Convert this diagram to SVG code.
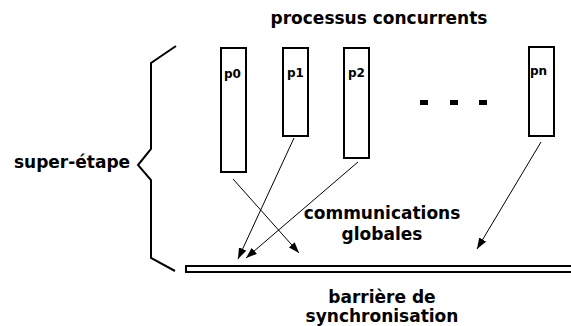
<svg xmlns="http://www.w3.org/2000/svg" width="571" height="326" viewBox="0 0 571 326">
<style>
text{font-family:"DejaVu Sans","Liberation Sans",sans-serif;font-weight:bold;fill:#000}
.big{font-size:17px}
.lbl{font-size:12px}
.proc{fill:#fff;stroke:#000;stroke-width:2}
.conn{stroke:#000;stroke-width:1;fill:none;marker-end:url(#ah)}
</style>
<defs>
<marker id="ah" markerUnits="userSpaceOnUse" markerWidth="11" markerHeight="8" refX="11" refY="4" orient="auto">
<path d="M0,0 L11,4 L0,8 z" fill="#000"/>
</marker>
</defs>
<rect width="571" height="326" fill="#fff"/>
<text class="big" x="379" y="24" text-anchor="middle">processus concurrents</text>
<g id="brace">
<path d="M176,46 L151,63 L151,149 L138,165 L151,180 L151,258 L175,271" fill="none" stroke="#000" stroke-width="2"/>
<text class="big" x="72" y="168" text-anchor="middle">super-étape</text>
</g>
<g id="p0"><rect class="proc" x="221" y="48" width="25" height="124"/><text class="lbl" x="224" y="78">p0</text></g>
<g id="p1"><rect class="proc" x="283" y="48" width="25" height="88"/><text class="lbl" x="287" y="77">p1</text></g>
<g id="p2"><rect class="proc" x="344" y="48" width="25" height="110"/><text class="lbl" x="348" y="77">p2</text></g>
<g id="pn"><rect class="proc" x="529" y="47" width="25" height="89"/><text class="lbl" x="530" y="75">pn</text></g>
<g id="dots">
<rect x="420" y="100" width="8" height="5" fill="#000"/>
<rect x="450" y="100" width="8" height="5" fill="#000"/>
<rect x="479" y="100" width="8" height="5" fill="#000"/>
</g>
<g id="connectors">
<line class="conn" x1="233" y1="179" x2="299" y2="253"/>
<line class="conn" x1="294" y1="138" x2="238" y2="259"/>
<line class="conn" x1="358" y1="162" x2="246" y2="258"/>
<line class="conn" x1="541" y1="142" x2="477" y2="249"/>
</g>
<g id="comm">
<text class="big" x="382" y="219" text-anchor="middle">communications</text>
<text class="big" x="382" y="240" text-anchor="middle">globales</text>
</g>
<g id="barrier">
<rect x="186" y="266" width="400" height="6" fill="#fff" stroke="#000" stroke-width="2"/>
<text class="big" x="382" y="303" text-anchor="middle">barrière de</text>
<text class="big" x="382" y="322" text-anchor="middle">synchronisation</text>
</g>
</svg>
